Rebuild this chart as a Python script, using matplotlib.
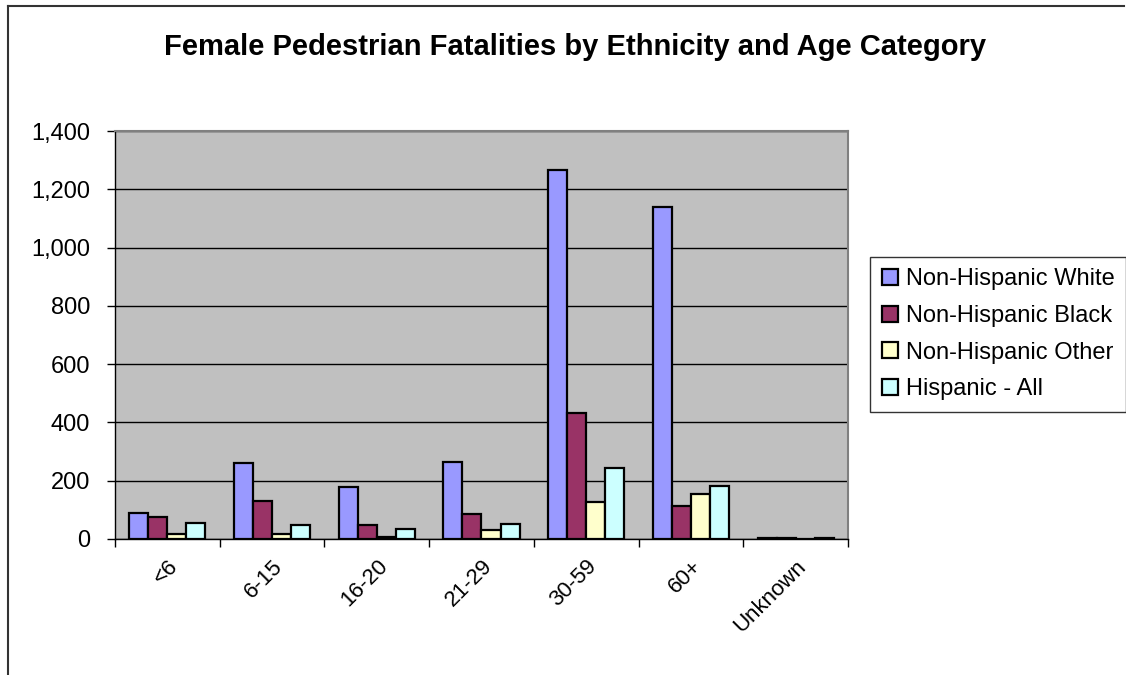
import matplotlib.pyplot as plt
import numpy as np
from matplotlib.lines import Line2D

plt.rcParams['font.family'] = ['Liberation Sans', 'DejaVu Sans']

# Data
categories = ['<6', '6-15', '16-20', '21-29', '30-59', '60+', 'Unknown']
white = [88, 262, 179, 263, 1266, 1138, 3]
black = [75, 131, 47, 85, 433, 114, 3]
other = [18, 18, 7, 32, 128, 155, 1]
hispanic = [54, 47, 35, 52, 243, 181, 2]

series = [('Non-Hispanic White', white, '#9999FF'),
          ('Non-Hispanic Black', black, '#993366'),
          ('Non-Hispanic Other', other, '#FFFFCC'),
          ('Hispanic - All', hispanic, '#CCFFFF')]

fig = plt.figure(figsize=(11.26, 6.75), dpi=100)
ax = fig.add_axes([0.1021, 0.2015, 0.651, 0.6044])
ax.set_facecolor('#C0C0C0')

x = np.arange(len(categories))
width = 0.182
for i, (name, vals, color) in enumerate(series):
    ax.bar(x + (i - 1.5) * width, vals, width, label=name, color=color,
           edgecolor='black', linewidth=1.6, zorder=3)

ax.set_xlim(-0.5, len(categories) - 0.5)
ax.set_ylim(0, 1400)
ax.set_yticks(np.arange(0, 1401, 200))
ax.set_yticklabels([f'{v:,}' for v in range(0, 1401, 200)], fontsize=17)
ax.yaxis.grid(True, color='black', linewidth=1)
ax.set_axisbelow(True)

# ticks between categories, labels at centres
ax.set_xticks(np.arange(-0.5, len(categories)), labels=[''] * (len(categories) + 1))
ax.set_xticks(x, minor=True)
ax.set_xticklabels(categories, minor=True, rotation=45, ha='right',
                   rotation_mode='anchor', fontsize=16)
ax.tick_params(axis='x', which='minor', length=0, pad=12)
ax.tick_params(axis='x', which='major', length=6, width=1, direction='out')
ax.tick_params(axis='y', length=6, width=1, direction='out', pad=12)

for side in ['top', 'right']:
    ax.spines[side].set_color('#808080')
    ax.spines[side].set_linewidth(1.5)
ax.spines['left'].set_linewidth(1)
ax.spines['bottom'].set_linewidth(1)

fig.text(0.511, 0.93, 'Female Pedestrian Fatalities by Ethnicity and Age Category',
         ha='center', va='center', fontsize=21, fontweight='bold')

leg = fig.legend(loc='upper left', bbox_to_anchor=(0.773, 0.62), fontsize=17,
                 frameon=True, fancybox=False, edgecolor='black',
                 handlelength=0.65, handleheight=0.65, handletextpad=0.35,
                 labelspacing=0.62, borderpad=0.5, borderaxespad=0)
leg.get_frame().set_linewidth(1)

# chart area border (left and top visible)
fig.add_artist(Line2D([0.0075, 0.0075], [0, 0.991], color='#333333', linewidth=1.5,
                      transform=fig.transFigure))
fig.add_artist(Line2D([0.0075, 0.998], [0.991, 0.991], color='#333333', linewidth=1.5,
                      transform=fig.transFigure))

plt.savefig('out.png', dpi=100)
